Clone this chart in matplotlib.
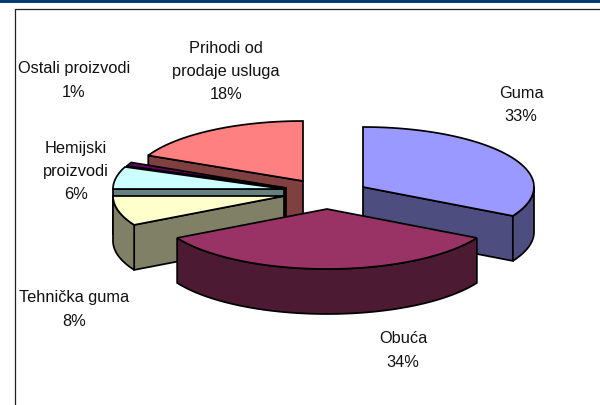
import matplotlib
matplotlib.use('Agg')
import matplotlib.pyplot as plt
from matplotlib.patches import Polygon
import numpy as np

# data
categories = ['Guma', 'Obuća', 'Tehnička guma', 'Hemijski proizvodi', 'Ostali proizvodi', 'Prihodi od prodaje usluga']
values = [33, 34, 8, 6, 1, 18]

# layout of the exploded slices, in pixels
centers = [(363, 187), (327, 209), (284, 196), (284, 189), (286, 188), (303, 181)]
top_colors = ['#9999FF', '#993366', '#FFFFCC', '#CCFFFF', '#660066', '#FF8080']
wall_colors = ['#4D4D80', '#4D1A33', '#808066', '#668080', '#330033', '#804040']
draw_order = [5, 0, 4, 3, 2, 1]
label_texts = ['Guma\n33%', 'Obuća\n34%', 'Tehnička guma\n8%', 'Hemijski\nproizvodi\n6%',
               'Ostali proizvodi\n1%', 'Prihodi od\nprodaje usluga\n18%']
label_pos = [(521, 105), (403, 350.5), (74, 309.5), (76, 171.5), (74, 80.5), (226, 71.5)]

rx = 171
ry = 60
depth = 45

plt.rcParams['font.family'] = ['Liberation Sans', 'DejaVu Sans']

fig = plt.figure(figsize=(6, 4.05), dpi=100)
ax = fig.add_axes([0, 0, 1, 1])
ax.set_xlim(0, 600)
ax.set_ylim(405, 0)
ax.axis('off')


def rim(c, t1, t2, n=80):
    # t is degrees clockwise from the top of the pie
    t = np.radians(np.linspace(t1, t2, n))
    return np.column_stack([c[0] + rx*np.sin(t), c[1] - ry*np.cos(t)])


def add_poly(pts, color, z):
    ax.add_patch(Polygon(pts, closed=True, facecolor=color, edgecolor='black',
                         linewidth=1.25, joinstyle='miter', zorder=z))


# frame
ax.fill_between([0, 600], 0, 2.5, color='#003D73', lw=0, zorder=1)
ax.plot([14.7, 14.7, 600], [405, 8.7, 8.7], color='#222222', lw=0.9, zorder=1)

edges = np.cumsum([0] + values) / sum(values) * 360
down = np.array([0, depth])

z = 2
for i in draw_order:
    c = centers[i]
    t1, t2 = edges[i], edges[i+1]
    # cut faces, only the ones turned to the viewer
    if np.sin(np.radians(t1)) < 0:
        end = rim(c, t1, t1, 1)[0]
        add_poly([c, end, end + down, np.array(c) + down], wall_colors[i], z)
    if np.sin(np.radians(t2)) > 1e-6:
        end = rim(c, t2, t2, 1)[0]
        add_poly([c, end, end + down, np.array(c) + down], wall_colors[i], z)
    # outer wall, front half only
    lo, hi = max(t1, 90), min(t2, 270)
    if hi > lo:
        arc = rim(c, lo, hi)
        add_poly(np.vstack([arc, arc[::-1] + down]), wall_colors[i], z)
    add_poly(np.vstack([[c], rim(c, t1, t2)]), top_colors[i], z)
    z += 1

for txt, (x, y) in zip(label_texts, label_pos):
    ax.text(x, y, txt, ha='center', va='center', fontsize=11.8, color='#111111',
            linespacing=1.68, zorder=20)

fig.savefig('out.png', dpi=100)
